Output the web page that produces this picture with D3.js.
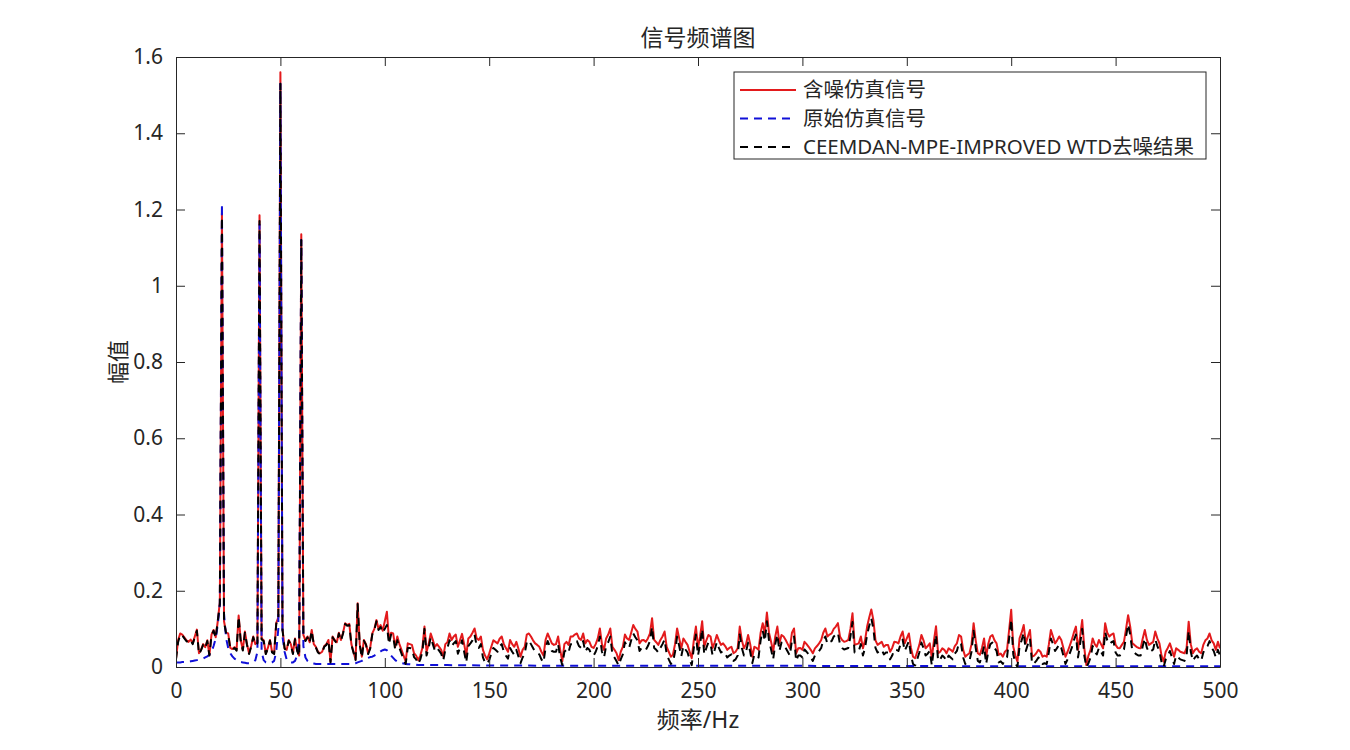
<!DOCTYPE html>
<html>
<head>
<meta charset="utf-8">
<script src="https://cdn.jsdelivr.net/npm/d3@7"></script>
<style>
  body { margin: 0; background: #fff; }
  svg { display: block; }
  text { font-family: "Noto Sans", "Noto Sans CJK SC", sans-serif; fill: #262626; }
</style>
</head>
<body>
<svg id="grafico" width="1350" height="750"></svg>
<script>
// testi
const titolo = "信号频谱图";
const etichettaX = "频率/Hz";
const etichettaY = "幅值";
const nomiSerie = ["含噪仿真信号", "原始仿真信号", "CEEMDAN-MPE-IMPROVED WTD去噪结果"];

// tick
const tickX = [0, 50, 100, 150, 200, 250, 300, 350, 400, 450, 500];
const tickY = [0, 0.2, 0.4, 0.6, 0.8, 1, 1.2, 1.4, 1.6];
const tickYLabel = ["0", "0.2", "0.4", "0.6", "0.8", "1", "1.2", "1.4", "1.6"];

// segnale con rumore, un valore per Hz (0..500)
const rumoroso = [
  0.022,0.07,0.088,0.085,0.078,0.07,0.066,0.072,0.062,0.08,
  0.098,0.036,0.045,0.06,0.052,0.07,0.032,0.085,0.097,0.078,
  0.12,0.17,1.19,0.12,0.09,0.088,0.05,0.047,0.052,0.045,
  0.135,0.07,0.045,0.093,0.06,0.036,0.055,0.08,0.06,0.065,
  1.185,0.075,0.07,0.036,0.05,0.071,0.04,0.036,0.115,0.13,
  1.56,0.1,0.05,0.045,0.071,0.06,0.036,0.075,0.045,0.03,
  1.135,0.084,0.07,0.08,0.065,0.097,0.06,0.053,0.04,0.036,
  0.04,0.055,0.06,0.071,0.014,0.08,0.071,0.065,0.09,0.071,
  0.09,0.115,0.11,0.113,0.06,0.04,0.02,0.167,0.06,0.027,
  0.071,0.06,0.036,0.05,0.088,0.1,0.123,0.1,0.11,0.095,
  0.12,0.145,0.071,0.09,0.088,0.053,0.08,0.06,0.045,0.03,
  0.014,0.062,0.06,0.058,0.036,0.03,0.018,0.03,0.05,0.106,
  0.04,0.06,0.088,0.071,0.053,0.06,0.053,0.045,0.027,0.06,
  0.065,0.088,0.071,0.08,0.085,0.053,0.07,0.087,0.06,0.03,
  0.075,0.08,0.09,0.101,0.075,0.071,0.08,0.045,0.03,0.02,
  0.035,0.053,0.07,0.066,0.062,0.074,0.08,0.06,0.05,0.04,
  0.071,0.06,0.053,0.066,0.048,0.027,0.045,0.053,0.085,0.088,
  0.08,0.07,0.062,0.058,0.053,0.04,0.03,0.071,0.088,0.075,
  0.062,0.058,0.06,0.08,0.045,0.015,0.06,0.066,0.058,0.08,
  0.08,0.085,0.088,0.075,0.071,0.088,0.062,0.071,0.066,0.053,
  0.05,0.06,0.075,0.101,0.06,0.045,0.075,0.085,0.101,0.053,
  0.045,0.036,0.018,0.04,0.053,0.085,0.075,0.071,0.09,0.11,
  0.1,0.093,0.062,0.07,0.071,0.066,0.075,0.088,0.128,0.071,
  0.065,0.058,0.071,0.08,0.093,0.053,0.04,0.027,0.032,0.06,
  0.101,0.075,0.049,0.075,0.066,0.058,0.04,0.023,0.07,0.106,
  0.05,0.08,0.12,0.053,0.07,0.084,0.08,0.05,0.065,0.084,
  0.07,0.058,0.062,0.055,0.045,0.05,0.053,0.036,0.04,0.049,
  0.106,0.07,0.049,0.06,0.084,0.06,0.027,0.053,0.05,0.045,
  0.09,0.115,0.088,0.143,0.09,0.066,0.04,0.08,0.106,0.062,
  0.084,0.08,0.071,0.06,0.049,0.09,0.101,0.036,0.049,0.05,
  0.045,0.066,0.06,0.053,0.045,0.036,0.049,0.055,0.062,0.071,
  0.09,0.101,0.08,0.085,0.088,0.1,0.106,0.115,0.08,0.071,
  0.066,0.068,0.071,0.1,0.141,0.058,0.06,0.062,0.08,0.049,
  0.07,0.106,0.13,0.151,0.123,0.07,0.058,0.062,0.066,0.053,
  0.058,0.058,0.04,0.05,0.066,0.065,0.062,0.08,0.093,0.062,
  0.075,0.088,0.05,0.027,0.023,0.04,0.058,0.084,0.07,0.049,
  0.055,0.062,0.023,0.07,0.107,0.036,0.04,0.049,0.045,0.036,
  0.049,0.045,0.04,0.055,0.062,0.084,0.08,0.045,0.027,0.032,
  0.036,0.06,0.115,0.07,0.036,0.032,0.05,0.075,0.027,0.06,
  0.08,0.084,0.07,0.062,0.032,0.035,0.027,0.04,0.045,0.097,
  0.15,0.053,0.03,0.014,0.075,0.09,0.11,0.062,0.08,0.097,
  0.027,0.03,0.036,0.045,0.04,0.027,0.03,0.027,0.058,0.097,
  0.08,0.062,0.07,0.08,0.071,0.05,0.027,0.04,0.055,0.071,
  0.09,0.106,0.045,0.08,0.123,0.05,0.005,0.03,0.045,0.075,
  0.06,0.053,0.071,0.06,0.049,0.115,0.09,0.08,0.085,0.088,
  0.058,0.05,0.049,0.058,0.066,0.1,0.136,0.106,0.062,0.058,
  0.053,0.05,0.049,0.075,0.097,0.071,0.058,0.062,0.066,0.093,
  0.075,0.062,0.03,0.014,0.04,0.05,0.062,0.045,0.027,0.049,
  0.045,0.04,0.038,0.036,0.05,0.119,0.06,0.036,0.045,0.049,
  0.04,0.036,0.058,0.07,0.075,0.088,0.07,0.062,0.045,0.066,
  0.049
];

// risultato denoising, un valore per Hz (0..500)
const denoised = [
  0.02,0.065,0.085,0.083,0.075,0.068,0.064,0.07,0.06,0.078,
  0.095,0.034,0.044,0.058,0.05,0.068,0.03,0.083,0.095,0.076,
  0.12,0.165,1.18,0.118,0.088,0.085,0.048,0.045,0.05,0.043,
  0.132,0.068,0.043,0.09,0.058,0.034,0.053,0.078,0.058,0.062,
  1.17,0.072,0.068,0.034,0.048,0.069,0.038,0.034,0.113,0.128,
  1.53,0.098,0.048,0.043,0.069,0.058,0.034,0.073,0.043,0.028,
  1.12,0.082,0.068,0.078,0.063,0.095,0.058,0.051,0.038,0.034,
  0.038,0.053,0.058,0.069,0.012,0.078,0.069,0.063,0.088,0.069,
  0.088,0.113,0.108,0.11,0.058,0.038,0.018,0.165,0.058,0.025,
  0.069,0.058,0.034,0.048,0.085,0.097,0.12,0.097,0.105,0.09,
  0.1,0.11,0.06,0.085,0.08,0.045,0.07,0.05,0.035,0.02,
  0.008,0.05,0.05,0.048,0.026,0.02,0.008,0.02,0.04,0.1,
  0.03,0.05,0.078,0.06,0.043,0.05,0.043,0.035,0.017,0.045,
  0.05,0.07,0.055,0.062,0.068,0.035,0.05,0.07,0.04,0.012,
  0.055,0.062,0.07,0.085,0.055,0.05,0.06,0.025,0.012,0.008,
  0.018,0.035,0.05,0.045,0.04,0.055,0.06,0.04,0.03,0.022,
  0.05,0.04,0.032,0.045,0.028,0.01,0.025,0.035,0.065,0.07,
  0.06,0.05,0.04,0.036,0.033,0.02,0.012,0.05,0.068,0.055,
  0.042,0.04,0.04,0.06,0.025,0.005,0.04,0.045,0.038,0.06,
  0.06,0.065,0.068,0.055,0.05,0.068,0.04,0.05,0.045,0.032,
  0.03,0.04,0.055,0.08,0.04,0.025,0.055,0.065,0.08,0.033,
  0.025,0.015,0.004,0.02,0.033,0.065,0.055,0.05,0.07,0.088,
  0.078,0.07,0.042,0.05,0.05,0.045,0.055,0.068,0.105,0.05,
  0.045,0.038,0.05,0.06,0.072,0.033,0.02,0.008,0.012,0.04,
  0.08,0.055,0.028,0.055,0.046,0.038,0.02,0.005,0.05,0.085,
  0.03,0.06,0.1,0.033,0.05,0.065,0.06,0.03,0.045,0.065,
  0.05,0.038,0.042,0.035,0.025,0.03,0.033,0.016,0.02,0.03,
  0.085,0.05,0.03,0.04,0.064,0.04,0.01,0.033,0.03,0.025,
  0.07,0.095,0.068,0.12,0.07,0.046,0.02,0.06,0.085,0.042,
  0.064,0.06,0.05,0.04,0.03,0.07,0.08,0.016,0.03,0.03,
  0.025,0.046,0.04,0.033,0.025,0.016,0.03,0.035,0.042,0.05,
  0.07,0.08,0.06,0.065,0.068,0.08,0.085,0.09,0.06,0.05,
  0.046,0.048,0.05,0.08,0.118,0.038,0.04,0.042,0.06,0.03,
  0.05,0.085,0.108,0.128,0.1,0.05,0.038,0.042,0.046,0.033,
  0.038,0.038,0.02,0.03,0.046,0.045,0.042,0.06,0.072,0.042,
  0.055,0.068,0.03,0.008,0.004,0.02,0.038,0.064,0.05,0.03,
  0.035,0.042,0.004,0.05,0.085,0.016,0.02,0.03,0.025,0.016,
  0.03,0.025,0.02,0.035,0.042,0.064,0.06,0.025,0.008,0.012,
  0.016,0.04,0.095,0.05,0.016,0.012,0.03,0.055,0.008,0.04,
  0.06,0.064,0.05,0.042,0.012,0.015,0.008,0.02,0.025,0.075,
  0.125,0.033,0.01,0.0,0.055,0.07,0.09,0.042,0.06,0.075,
  0.008,0.01,0.016,0.025,0.02,0.008,0.01,0.008,0.038,0.075,
  0.06,0.042,0.05,0.06,0.05,0.03,0.008,0.02,0.035,0.05,
  0.07,0.085,0.025,0.06,0.1,0.03,0.0,0.01,0.025,0.055,
  0.04,0.033,0.05,0.04,0.03,0.092,0.07,0.06,0.065,0.068,
  0.038,0.03,0.03,0.038,0.046,0.08,0.112,0.085,0.042,0.038,
  0.033,0.03,0.03,0.055,0.075,0.05,0.038,0.042,0.046,0.072,
  0.055,0.042,0.012,0.0,0.02,0.03,0.042,0.025,0.008,0.03,
  0.025,0.02,0.018,0.016,0.03,0.095,0.04,0.016,0.025,0.03,
  0.02,0.016,0.038,0.05,0.055,0.068,0.05,0.042,0.025,0.045,
  0.03
];

// segnale originale: 1 Hz fino a 130, poi pochi punti (quasi piatto)
const originaleFreq = d3.range(0, 131).concat([150, 200, 300, 400, 500]);
const originale = [
  0.012,0.012,0.012,0.013,0.013,0.014,0.014,0.015,0.016,0.017,
  0.018,0.019,0.02,0.022,0.025,0.028,0.032,0.04,0.055,0.075,
  0.11,0.165,1.215,0.14,0.075,0.05,0.036,0.028,0.022,0.018,
  0.015,0.013,0.012,0.011,0.01,0.01,0.011,0.013,0.018,0.04,
  1.16,0.04,0.018,0.012,0.01,0.01,0.012,0.016,0.04,0.1,
  1.53,0.08,0.04,0.02,0.014,0.012,0.012,0.016,0.03,0.08,
  1.12,0.055,0.025,0.016,0.012,0.01,0.009,0.008,0.008,0.008,
  0.008,0.008,0.008,0.008,0.008,0.008,0.008,0.008,0.008,0.008,
  0.008,0.008,0.008,0.008,0.008,0.009,0.01,0.012,0.014,0.016,
  0.02,0.022,0.024,0.026,0.027,0.03,0.033,0.037,0.041,0.044,
  0.046,0.044,0.038,0.03,0.024,0.018,0.014,0.012,0.01,0.009,
  0.008,0.007,0.007,0.006,0.006,0.006,0.005,0.005,0.005,0.005,
  0.005,0.005,0.005,0.005,0.005,0.005,0.005,0.005,0.005,0.005,
  0.005,
  0.004,0.003,0.003,0.002,0.002
];

const freqHz = d3.range(0, rumoroso.length);

// dimensioni area del grafico
const sinistra = 176, destra = 1220, alto = 57, basso = 667;
const coloreAssi = "#262626";

let svg = d3.select("#grafico");

let x = d3.scaleLinear().domain([0, 500]).range([sinistra, destra]);
let y = d3.scaleLinear().domain([0, 1.6]).range([basso, alto]);

// clip per le linee
svg.append("clipPath").attr("id", "clip")
  .append("rect")
  .attr("x", sinistra).attr("y", alto)
  .attr("width", destra - sinistra).attr("height", basso - alto);

let linea = d3.line()
  .x((d) => x(d[0]))
  .y((d) => y(d[1]));

let gLinee = svg.append("g").attr("clip-path", "url(#clip)");

let serie = [
  { dati: freqHz.map((f, i) => [f, rumoroso[i]]), colore: "#e31a1c", dash: null },
  { dati: originaleFreq.map((f, i) => [f, originale[i]]), colore: "#1010d8", dash: "8,6" },
  { dati: freqHz.map((f, i) => [f, denoised[i]]), colore: "#000000", dash: "8,6" }
];

serie.forEach((s) => {
  gLinee.append("path")
    .attr("d", linea(s.dati))
    .attr("fill", "none")
    .attr("stroke", s.colore)
    .attr("stroke-width", 2)
    .attr("stroke-linejoin", "round")
    .attr("stroke-dasharray", s.dash);
});

// assi (tick verso l'interno, su tutti e quattro i lati)
let asseX = svg.append("g")
  .attr("transform", `translate(0,${basso})`)
  .call(d3.axisBottom(x).tickValues(tickX).tickSizeInner(-9).tickSizeOuter(0).tickPadding(16));
let asseXsopra = svg.append("g")
  .attr("transform", `translate(0,${alto})`)
  .call(d3.axisTop(x).tickValues(tickX).tickSizeInner(-9).tickSizeOuter(0).tickFormat(""));
let asseY = svg.append("g")
  .attr("transform", `translate(${sinistra},0)`)
  .call(d3.axisLeft(y).tickValues(tickY).tickSizeInner(-9).tickSizeOuter(0).tickPadding(13)
    .tickFormat((d, i) => tickYLabel[i]));
let asseYdestra = svg.append("g")
  .attr("transform", `translate(${destra},0)`)
  .call(d3.axisRight(y).tickValues(tickY).tickSizeInner(-9).tickSizeOuter(0).tickFormat(""));

[asseX, asseXsopra, asseY, asseYdestra].forEach((a) => {
  a.select(".domain").attr("stroke", coloreAssi).attr("stroke-width", 1);
  a.selectAll(".tick line").attr("stroke", coloreAssi);
  a.selectAll(".tick text")
    .style("font-family", '"Noto Sans", "Noto Sans CJK SC", sans-serif')
    .style("font-size", "21px")
    .attr("fill", coloreAssi);
});

// titolo ed etichette
svg.append("text")
  .attr("x", (sinistra + destra) / 2).attr("y", 46)
  .attr("text-anchor", "middle")
  .style("font-size", "23px")
  .text(titolo);

svg.append("text")
  .attr("x", (sinistra + destra) / 2).attr("y", 728)
  .attr("text-anchor", "middle")
  .style("font-size", "23px")
  .text(etichettaX);

svg.append("text")
  .attr("transform", `translate(126,${(alto + basso) / 2}) rotate(-90)`)
  .attr("text-anchor", "middle")
  .style("font-size", "22px")
  .text(etichettaY);

// legenda
let legenda = svg.append("g");
legenda.append("rect")
  .attr("x", 734).attr("y", 72)
  .attr("width", 472).attr("height", 87)
  .attr("fill", "#fff")
  .attr("stroke", coloreAssi)
  .attr("stroke-width", 1);

nomiSerie.forEach((nome, i) => {
  let yy = 90 + i * 28.5;
  legenda.append("line")
    .attr("x1", 740).attr("x2", 796)
    .attr("y1", yy).attr("y2", yy)
    .attr("stroke", serie[i].colore)
    .attr("stroke-width", 2)
    .attr("stroke-dasharray", serie[i].dash);
  legenda.append("text")
    .attr("x", 803).attr("y", yy)
    .attr("dy", "0.35em")
    .style("font-size", "20.5px")
    .text(nome);
});
</script>
</body>
</html>
